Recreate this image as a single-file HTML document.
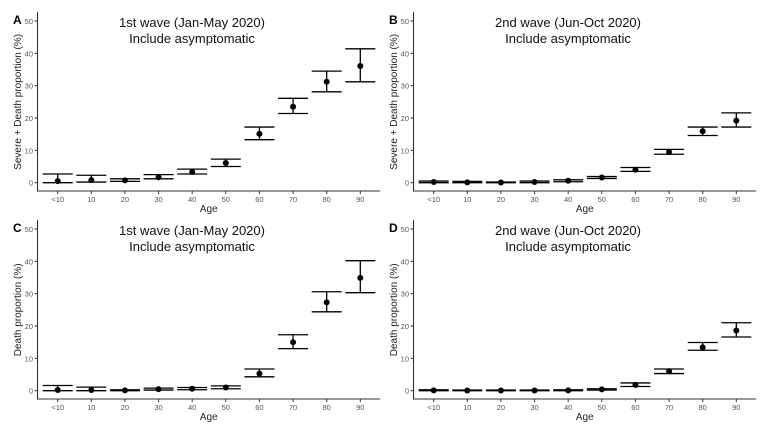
<!DOCTYPE html>
<html><head><meta charset="utf-8">
<style>
html,body{margin:0;padding:0;background:#fff;}
svg{display:block;font-family:"Liberation Sans",Arial,sans-serif;}
</style></head>
<body>
<svg id="chart" width="768" height="428" viewBox="0 0 768 428"></svg>
<script>
const categories = ["<10","10","20","30","40","50","60","70","80","90"];
const yTicks = [0,10,20,30,40,50];
const estA = [0.5,0.8,0.7,1.7,3.3,6.1,15.1,23.5,31.2,36.1];
const lowA = [0,0.2,0.4,1.2,2.7,5.0,13.3,21.4,28.1,31.2];
const highA = [2.7,2.3,1.2,2.5,4.2,7.3,17.2,26.1,34.5,41.4];
const estB = [0.2,0.1,0.05,0.2,0.6,1.6,4.0,9.5,15.9,19.2];
const lowB = [0,0,0,0,0.3,1.3,3.5,8.8,14.6,17.2];
const highB = [0.5,0.4,0.2,0.5,0.9,1.9,4.7,10.3,17.2,21.6];
const estC = [0.2,0.2,0.1,0.5,0.6,1.0,5.3,15.0,27.3,34.9];
const lowC = [0,0,0,0.2,0.3,0.6,4.3,13.0,24.4,30.3];
const highC = [1.6,1.1,0.3,0.8,1.0,1.5,6.7,17.3,30.6,40.2];
const estD = [0.1,0.05,0.05,0.05,0.1,0.4,1.8,6.0,13.4,18.6];
const lowD = [0,0,0,0,0,0.2,1.3,5.3,12.5,16.6];
const highD = [0.3,0.2,0.2,0.2,0.3,0.6,2.4,6.7,14.9,21.0];

const NS="http://www.w3.org/2000/svg";
const svg=document.getElementById('chart');
function mk(tag,attrs,parent){const e=document.createElementNS(NS,tag);for(const k in attrs)e.setAttribute(k,attrs[k]);(parent||svg).appendChild(e);return e;}

const panels=[
 {id:'a',letter:'A',ox:0,oy:0,title:'1st wave (Jan-May 2020)',ylab:'Severe + Death proportion (%)',est:estA,low:lowA,high:highA},
 {id:'b',letter:'B',ox:376,oy:0,title:'2nd wave (Jun-Oct 2020)',ylab:'Severe + Death proportion (%)',est:estB,low:lowB,high:highB},
 {id:'c',letter:'C',ox:0,oy:208,title:'1st wave (Jan-May 2020)',ylab:'Death proportion (%)',est:estC,low:lowC,high:highC},
 {id:'d',letter:'D',ox:376,oy:208,title:'2nd wave (Jun-Oct 2020)',ylab:'Death proportion (%)',est:estD,low:lowD,high:highD}
];

panels.forEach(p=>{
  const g=mk('g',{transform:`translate(${p.ox},${p.oy})`});
  
  
  const axX=37.5, axY=191, right=380, y0=182.7, y50=21;
  const ys=v=>y0+(y50-y0)*v/50;
  const x0=57.7, x9=360.3;
  const xs=i=>x0+(x9-x0)*i/9;
  const lt=mk('text',{x:13,y:24,'font-size':12,'font-weight':'bold',fill:'#000'},g);lt.textContent=p.letter;
  
  
  const t1=mk('text',{x:192,y:27,'font-size':13,'text-anchor':'middle',fill:'#111'},g);t1.textContent=p.title;
  
  
  const t2=mk('text',{x:192,y:43,'font-size':13,'text-anchor':'middle',fill:'#111'},g);t2.textContent='Include asymptomatic';
  
  
  const yl=mk('text',{transform:`translate(21,${(y0+y50)/2}) rotate(-90)`,'font-size':10,'text-anchor':'middle',fill:'#222'},g);yl.textContent=p.ylab;
  
  
  const xl=mk('text',{x:(axX+right)/2,y:212,'font-size':10,'text-anchor':'middle',fill:'#222'},g);xl.textContent='Age';
  
  
  const ax=mk('path',{d:`M${axX},12V${axY}H${right}`,stroke:'#333',fill:'none','stroke-width':1.1},g);
  
  
  yTicks.forEach(v=>{
    mk('line',{x1:axX-3,x2:axX,y1:ys(v),y2:ys(v),stroke:'#333'},g);
    const tt=mk('text',{x:axX-4.5,y:ys(v)+3,'font-size':7.5,'text-anchor':'end',fill:'#555'},g);tt.textContent=v;
    
    
  });
  categories.forEach((c,i)=>{
    mk('line',{x1:xs(i),x2:xs(i),y1:axY,y2:axY+3,stroke:'#333'},g);
    const tt=mk('text',{x:xs(i),y:axY+11,'font-size':7.5,'text-anchor':'middle',fill:'#555'},g);tt.textContent=c;
    
    
    const eb=mk('g',{},g);
    
    
    const x=xs(i);
    mk('line',{x1:x-15,x2:x+15,y1:ys(p.high[i]),y2:ys(p.high[i]),stroke:'#000','stroke-width':1.3},eb);
    mk('line',{x1:x-15,x2:x+15,y1:ys(p.low[i]),y2:ys(p.low[i]),stroke:'#000','stroke-width':1.3},eb);
    mk('line',{x1:x,x2:x,y1:ys(p.high[i]),y2:ys(p.low[i]),stroke:'#000','stroke-width':1.3},eb);
    const pt=mk('circle',{cx:x,cy:ys(p.est[i]),r:3,fill:'#000'},g);
    
    
  });
});
</script>
</body></html>
